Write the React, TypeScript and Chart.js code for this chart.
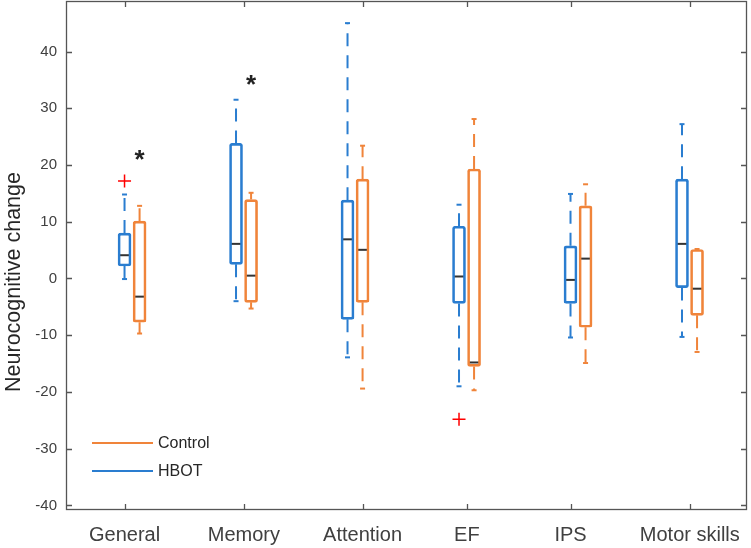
import React, { useEffect, useRef } from "react";
import { Chart, registerables } from "chart.js";

Chart.register(...registerables);

// ---------- data ----------
const categories = ["General", "Memory", "Attention", "EF", "IPS", "Motor skills"];
const groupPositions = [1, 2, 3, 4, 5, 6];
const controlOffset = 0.135;
const categoryTickPositions = [1, 2.07, 3.135, 4.07, 5, 6.07];
const yTickValues = [-40, -30, -20, -10, 0, 10, 20, 30, 40];

const hbotMin = [-0.1, -4.0, -13.9, -19.0, -10.4, -10.3];
const hbotQ1 = [2.2, 2.5, -7.2, -4.4, -4.4, -1.6];
const hbotMedian = [4.1, 6.1, 6.9, 0.35, -0.25, 6.1];
const hbotQ3 = [8.0, 23.8, 13.8, 9.2, 5.75, 17.5];
const hbotMax = [14.8, 31.5, 45.0, 13.0, 14.9, 27.2];

const controlMin = [-9.7, -5.3, -19.4, -19.7, -14.9, -12.95];
const controlQ1 = [-7.7, -4.2, -4.2, -15.5, -8.6, -6.5];
const controlMedian = [-3.2, 0.5, 5.05, -14.8, 3.5, -1.8];
const controlQ3 = [10.1, 13.9, 17.5, 19.3, 12.8, 5.1];
const controlMax = [12.8, 15.1, 23.4, 28.1, 16.6, 5.2];

const outlierCategoryIndex = [0, 3];
const outlierValues = [17.2, -24.8];

const significantCategoryIndex = [0, 1];
const significantMarkValues = [22.2, 35.3];

const legendLabels = ["Control", "HBOT"];

// ---------- styles ----------
const BLUE = "#2a7dd0";
const ORANGE = "#f0843a";
const FONT = '"Liberation Sans", Arial, sans-serif';

const controlPositions = groupPositions.map((p) => p + controlOffset);

function whiskerData(pos: number[], q1: number[], q3: number[], mn: number[], mx: number[]) {
  const out: any[] = [];
  pos.forEach((p, i) => {
    out.push({ x: p, y: q3[i] }, { x: p, y: mx[i] }, { x: p, y: null });
    out.push({ x: p, y: q1[i] }, { x: p, y: mn[i] }, { x: p, y: null });
  });
  return out;
}

const decorPlugin = {
  id: "decor",
  afterDraw(chart: any) {
    const { ctx, chartArea, scales } = chart;
    const { left, right, top, bottom } = chartArea;
    ctx.save();
    // frame
    ctx.strokeStyle = "#555555";
    ctx.lineWidth = 1.3;
    ctx.strokeRect(left + 0.5, top + 0.5, right - left - 1, bottom - top - 1);
    // inward ticks
    const tl = 6;
    ctx.beginPath();
    yTickValues.forEach((v) => {
      const y = Math.round(scales.y.getPixelForValue(v)) + 0.5;
      ctx.moveTo(left, y);
      ctx.lineTo(left + tl, y);
      ctx.moveTo(right, y);
      ctx.lineTo(right - tl, y);
    });
    categoryTickPositions.forEach((v) => {
      const x = Math.round(scales.x.getPixelForValue(v)) + 0.5;
      ctx.moveTo(x, bottom);
      ctx.lineTo(x, bottom - tl);
      ctx.moveTo(x, top);
      ctx.lineTo(x, top + tl);
    });
    ctx.stroke();

    // significance asterisks
    ctx.fillStyle = "#222222";
    ctx.font = `bold 26px ${FONT}`;
    ctx.textAlign = "center";
    ctx.textBaseline = "alphabetic";
    significantCategoryIndex.forEach((ci, k) => {
      const x = scales.x.getPixelForValue(controlPositions[ci]);
      const y = scales.y.getPixelForValue(significantMarkValues[k]);
      ctx.fillText("*", x, y + 15);
    });

    // y-axis title
    ctx.save();
    ctx.translate(14, top + 281);
    ctx.rotate(-Math.PI / 2);
    ctx.fillStyle = "#262626";
    ctx.font = `21.5px ${FONT}`;
    ctx.textAlign = "center";
    ctx.textBaseline = "middle";
    ctx.fillText("Neurocognitive change", 0, 0);
    ctx.restore();

    // legend
    const colors = [ORANGE, BLUE];
    legendLabels.forEach((lab, i) => {
      const y = bottom - 67 + i * 28;
      ctx.strokeStyle = colors[i];
      ctx.lineWidth = 2;
      ctx.beginPath();
      ctx.moveTo(left + 26, y);
      ctx.lineTo(left + 87, y);
      ctx.stroke();
      ctx.fillStyle = "#262626";
      ctx.font = `16px ${FONT}`;
      ctx.textAlign = "left";
      ctx.textBaseline = "middle";
      ctx.fillText(lab, left + 92, y + 1);
    });
    ctx.restore();
  },
};

export default function App() {
  const ref = useRef<HTMLCanvasElement | null>(null);

  useEffect(() => {
    if (!ref.current) return;
    const chart = new Chart(ref.current, {
      type: "bar",
      data: {
        datasets: [
          {
            type: "bar",
            label: "HBOT",
            data: groupPositions.map((p, i) => ({ x: p, y: [hbotQ1[i], hbotQ3[i]] })) as any,
            borderColor: BLUE,
            backgroundColor: "rgba(0,0,0,0)",
            borderWidth: 2,
            borderSkipped: false,
            borderRadius: 2.5,
            barThickness: 13,
            grouped: false,
          } as any,
          {
            type: "bar",
            label: "Control",
            data: controlPositions.map((p, i) => ({ x: p, y: [controlQ1[i], controlQ3[i]] })) as any,
            borderColor: ORANGE,
            backgroundColor: "rgba(0,0,0,0)",
            borderWidth: 2,
            borderSkipped: false,
            borderRadius: 2.5,
            barThickness: 13,
            grouped: false,
          } as any,
          {
            type: "line",
            label: "HBOT whiskers",
            data: whiskerData(groupPositions, hbotQ1, hbotQ3, hbotMin, hbotMax),
            borderColor: BLUE,
            borderWidth: 2,
            borderDash: [13, 9],
            pointRadius: 0,
            spanGaps: false,
            tension: 0,
          } as any,
          {
            type: "line",
            label: "Control whiskers",
            data: whiskerData(controlPositions, controlQ1, controlQ3, controlMin, controlMax),
            borderColor: ORANGE,
            borderWidth: 2,
            borderDash: [13, 9],
            pointRadius: 0,
            spanGaps: false,
            tension: 0,
          } as any,
          {
            type: "scatter",
            label: "HBOT caps",
            data: groupPositions.flatMap((p, i) => [
              { x: p, y: hbotMax[i] },
              { x: p, y: hbotMin[i] },
            ]),
            pointStyle: "line",
            pointRadius: 2.5,
            borderColor: BLUE,
            borderWidth: 2,
          } as any,
          {
            type: "scatter",
            label: "Control caps",
            data: controlPositions.flatMap((p, i) => [
              { x: p, y: controlMax[i] },
              { x: p, y: controlMin[i] },
            ]),
            pointStyle: "line",
            pointRadius: 2.5,
            borderColor: ORANGE,
            borderWidth: 2,
          } as any,
          {
            type: "scatter",
            label: "Medians",
            data: [
              ...groupPositions.map((p, i) => ({ x: p, y: hbotMedian[i] })),
              ...controlPositions.map((p, i) => ({ x: p, y: controlMedian[i] })),
            ],
            pointStyle: "line",
            pointRadius: 5.5,
            borderColor: "#333333",
            borderWidth: 2,
          } as any,
          {
            type: "scatter",
            label: "Outliers",
            data: outlierCategoryIndex.map((ci, k) => ({ x: groupPositions[ci], y: outlierValues[k] })),
            pointStyle: "cross",
            pointRadius: 6.5,
            borderColor: "#ff0000",
            borderWidth: 1.5,
          } as any,
        ],
      },
      options: {
        animation: false,
        responsive: true,
        maintainAspectRatio: false,
        layout: { autoPadding: false, padding: { top: 1, right: 4, left: 0, bottom: 0 } },
        plugins: {
          legend: { display: false },
          tooltip: { enabled: false },
        },
        scales: {
          x: {
            type: "linear",
            min: 0.475,
            max: 6.583,
            offset: false,
            grid: { display: false, drawTicks: false },
            border: { display: false },
            afterBuildTicks: (s: any) => {
              s.ticks = categoryTickPositions.map((v) => ({ value: v }));
            },
            afterFit: (s: any) => {
              s.height = 38;
              s.paddingLeft = 0;
              s.paddingRight = 0;
            },
            ticks: {
              autoSkip: false,
              maxRotation: 0,
              padding: 13,
              color: "#404040",
              font: { family: FONT, size: 20 },
              callback: (_v: any, idx: number) => categories[idx],
            },
          },
          y: {
            type: "linear",
            min: -40.8,
            max: 48.9,
            grid: { display: false, drawTicks: false },
            border: { display: false },
            afterBuildTicks: (s: any) => {
              s.ticks = yTickValues.map((v) => ({ value: v }));
            },
            afterFit: (s: any) => {
              s.width = 66;
              s.paddingTop = 0;
              s.paddingBottom = 0;
            },
            ticks: {
              padding: 9,
              color: "#404040",
              font: { family: FONT, size: 15 },
            },
          },
        },
      } as any,
      plugins: [decorPlugin],
    });
    return () => chart.destroy();
  }, []);

  return (
    <div style={{ position: "fixed", left: 0, top: 0, width: 751, height: 548, background: "#fff" }}>
      <canvas ref={ref} />
    </div>
  );
}
